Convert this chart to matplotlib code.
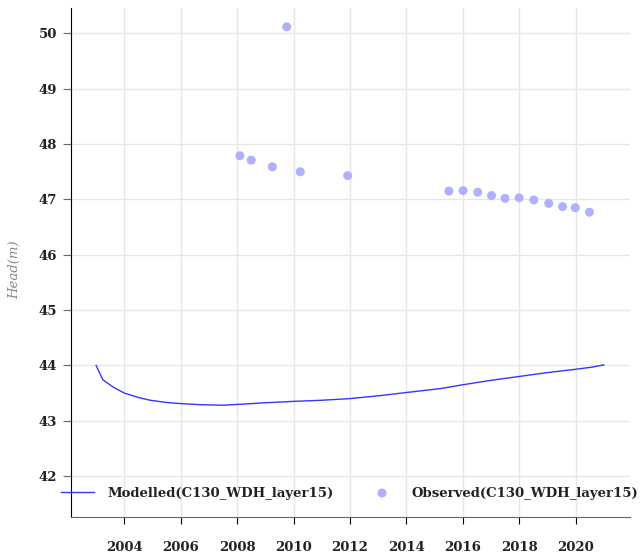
import matplotlib.pyplot as plt
import numpy as np

# modelled head
mod_years = [2003.0, 2003.24, 2003.6, 2004.0, 2004.5, 2004.92, 2005.5, 2005.98, 2006.7,
             2007.48, 2008.2, 2008.82, 2010.0, 2011.0, 2012.0, 2013.0, 2014.0, 2015.2,
             2016.0, 2017.0, 2018.0, 2019.0, 2020.0, 2020.6, 2021.0]
mod_head = [44.0, 43.74, 43.61, 43.50, 43.42, 43.37, 43.33, 43.31, 43.29,
            43.28, 43.30, 43.32, 43.35, 43.37, 43.40, 43.45, 43.51, 43.58,
            43.65, 43.73, 43.80, 43.87, 43.93, 43.97, 44.01]

obs_years = [2008.1, 2008.5, 2009.25, 2009.76, 2010.24, 2011.92, 2015.51, 2016.01, 2016.53,
             2017.02, 2017.5, 2018.0, 2018.52, 2019.05, 2019.54, 2019.99, 2020.49]
obs_head = [47.79, 47.71, 47.59, 50.12, 47.50, 47.43, 47.15, 47.16, 47.13,
            47.07, 47.02, 47.03, 46.99, 46.93, 46.87, 46.85, 46.77]

x_ticks = [2004, 2006, 2008, 2010, 2012, 2014, 2016, 2018, 2020]
y_ticks = [42, 43, 44, 45, 46, 47, 48, 49, 50]

fig = plt.figure(figsize=(6.41, 5.53), dpi=100)
ax = fig.add_axes([70.7 / 641, 1 - 517 / 553, (630 - 70.7) / 641, (517 - 8) / 553])

ax.plot(mod_years, mod_head, color='#3535ff', linewidth=1.0, label='Modelled(C130_WDH_layer15)')
ax.scatter(obs_years, obs_head, s=42, color='#b0b0ff', edgecolors='none', label='Observed(C130_WDH_layer15)')

ax.set_xlim(2002.1, 2021.93)
ax.set_ylim(41.26, 50.46)
ax.set_xticks(x_ticks)
ax.set_yticks(y_ticks)

ax.grid(True, color='#e6e6e6', linewidth=1.0)
ax.set_axisbelow(True)
for s in ['top', 'right']:
    ax.spines[s].set_visible(False)
ax.spines['left'].set_color('black')
ax.spines['bottom'].set_color('#666666')
ax.tick_params(axis='y', length=6, color='#666666', pad=4)
ax.tick_params(axis='x', length=5, color='black', pad=12)
for lbl in ax.get_xticklabels() + ax.get_yticklabels():
    lbl.set_fontfamily('DejaVu Serif')
    lbl.set_fontweight('bold')
    lbl.set_fontsize(9.5)
    lbl.set_color('#222222')

fig.text(15 / 641, 1 - 270 / 553, 'Head(m)', rotation=90, ha='center', va='center',
         fontfamily='DejaVu Serif', fontstyle='italic', fontsize=9.5, color='#888888')

leg = fig.legend(loc='center', bbox_to_anchor=(350 / 641, 1 - 493 / 553), ncol=2, frameon=False,
                 columnspacing=2.4, handlelength=2.5, handletextpad=1.0,
                 borderpad=0, borderaxespad=0,
                 prop={'family': 'DejaVu Serif', 'weight': 'bold', 'size': 9.5})
for t in leg.get_texts():
    t.set_color('#222222')

fig.savefig('out.png', dpi=100)
